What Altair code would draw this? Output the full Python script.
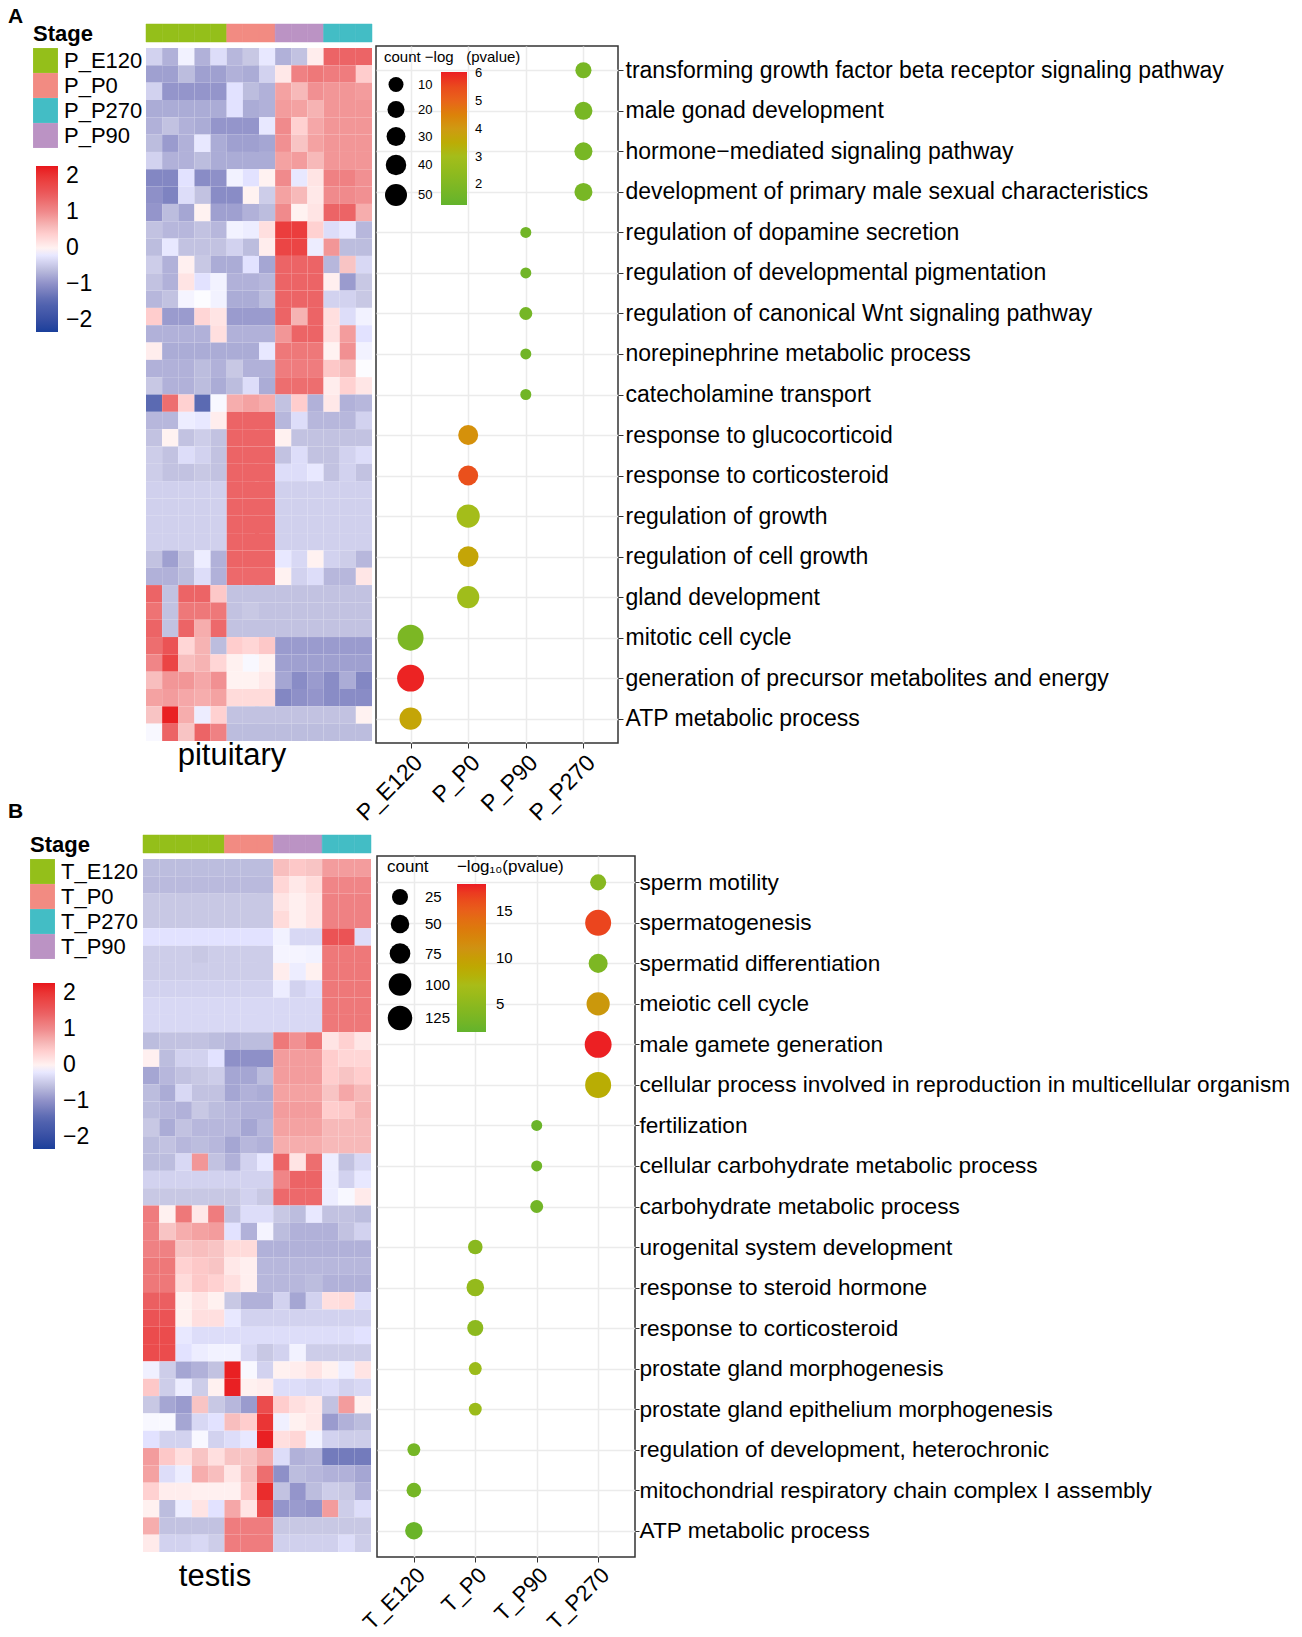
import altair as alt
import pandas as pd

FONT = "Liberation Sans"
U = -0.42

heat_a = [
 [-.4,-.7,-.1,-.7,-.3,-.65,-.5,-.2,-.7,-.55,.05,1.4,1.4,1.4],
 [-.85,-.85,-.6,-.85,-.85,-.7,-.75,-.4,.1,1.1,1.2,1.15,1.15,.4],
 [-.4,-.95,-.95,-.95,-.95,-.25,-.6,-.7,.8,.6,.95,.9,.9,.85],
 [-.75,-.75,-.75,-.75,-.75,-.25,-.75,-.7,.85,.8,.65,.9,.9,.9],
 [-.7,-.55,-.7,-.75,-.95,-.95,-.95,-.2,1.0,.35,.75,.9,.9,.9],
 [-.6,-.9,-.7,-.2,-.75,-.85,-.85,-.8,.95,.5,.8,.9,.9,.9],
 [-.4,-.7,-.7,-.6,-.75,-.75,-.75,-.75,.8,.85,.6,.9,.9,.9],
 [-1.1,-1.1,-.25,-1.05,-1.0,-.1,-.25,0,1.0,-.2,.15,1.1,1.1,.95],
 [-1,-1.15,-.3,-.55,-1.05,-1.05,0,-.45,.8,.6,.1,1.0,1.0,.95],
 [-.95,-.6,-.8,0,-.85,-.85,-.7,-.6,1.0,0,.15,1.4,1.4,.7],
 [-.55,-.65,-.65,-.55,-.65,-.1,-.15,.2,1.9,1.9,.35,-.3,-.2,-.65],
 [-.6,-.2,-.55,-.55,-.55,-.4,-.6,.05,1.8,1.8,-.15,.9,-.6,-.6],
 [-.45,-.7,.02,-.5,-.75,-.75,-.25,-.8,1.4,1.4,1.4,-.65,.5,-.35],
 [-.55,-.7,.15,-.25,-.1,-.7,-.7,-.65,1.4,1.4,1.4,.03,-.9,-.5],
 [-.65,-.55,-.08,-.01,-.1,-.75,-.75,-.6,1.4,1.4,1.4,-.4,-.4,-.5],
 [.4,-.9,-.9,.3,.15,-.9,-.9,-.9,1.4,.65,1.4,.2,-.3,-.1],
 [-.7,-.7,-.7,-.7,.2,-.7,-.7,-.7,.9,1.4,1.4,.2,.85,-.25],
 [.05,-.75,-.75,-.75,-.75,-.75,-.75,-.2,1.2,1.2,1.2,0,.95,-.1],
 [-.7,-.7,-.7,-.6,-.7,-.5,-.7,-.7,1.15,1.15,1.15,.45,.6,-.01],
 [-.5,-.7,-.7,-.6,-.75,-.6,-.3,-.75,1.3,1.3,1.3,.05,.35,.12],
 [-1.45,1.3,.35,-1.45,-.05,.7,.8,.7,-.55,.4,-.7,.1,-.7,-.65],
 [-.65,-.65,-.15,-.2,.05,1.4,1.4,1.4,-.65,-.3,-.65,-.65,-.65,-.4],
 [-.55,0,-.55,-.45,-.55,1.4,1.4,1.4,.01,-.55,-.55,-.55,-.55,-.55],
 [-.45,-.55,-.3,-.4,-.55,1.4,1.4,1.4,-.55,-.3,-.55,-.55,-.4,-.3],
 [-.45,-.55,-.55,-.5,-.55,1.4,1.4,1.4,-.3,-.3,-.2,-.55,-.4,-.55],
 [U,U,U,U,U,1.4,1.4,1.4,U,U,U,U,U,U],
 [U,U,U,U,U,1.4,1.4,1.4,U,U,U,U,U,U],
 [U,U,U,U,U,1.4,1.4,1.4,U,U,U,U,U,U],
 [U,U,U,U,U,1.4,1.4,1.4,U,U,U,U,U,U],
 [-.55,-.85,-.55,-.15,-.7,1.4,1.4,1.4,-.2,-.35,0,-.4,-.45,-.65],
 [-.7,-.7,-.6,-.3,-.7,1.35,1.35,1.35,0,-.4,-.3,-.65,-.65,.12],
 [1.4,-.55,1.4,1.4,.45,-.55,-.55,-.55,-.55,-.55,-.55,-.55,-.55,-.55],
 [1.25,-.55,1.2,1.2,1.2,-.55,-.5,-.55,-.55,-.55,-.55,-.55,-.55,-.55],
 [1.4,-.55,1.4,.7,1.35,-.55,-.55,-.55,-.55,-.55,-.55,-.55,-.55,-.55],
 [1.3,1.6,.3,.65,-.6,.4,.3,.45,-.9,-.9,-.9,-.9,-.9,-.9],
 [1.05,1.8,.55,.65,.3,.01,-.05,0,-.85,-.85,-.85,-.85,-.85,-.85],
 [.55,.9,.9,.75,.95,0,0,.1,-.8,-1.05,-.9,-1.05,-.75,-1.1],
 [.8,.85,.75,.7,.8,.25,.25,.25,-1.1,-1.0,-.95,-1.05,-1.05,-1.05],
 [.5,2.2,.7,-.15,.35,-.55,-.55,-.55,-.55,-.55,-.55,-.55,-.55,0],
 [-.05,1.4,.5,1.4,1.1,-.6,-.6,-.6,-.6,-.6,-.6,-.6,-.6,-.6],
]
heat_b = [
 [-.6,-.6,-.6,-.6,-.6,-.6,-.6,-.6,.55,.45,.5,.85,.85,.85],
 [-.62,-.62,-.62,-.62,-.62,-.62,-.62,-.62,.3,.1,.25,1.05,1.05,1.05],
 [-.5,-.5,-.5,-.5,-.5,-.5,-.5,-.5,.15,.03,.15,1.1,1.1,1.1],
 [-.5,-.5,-.5,-.5,-.5,-.5,-.5,-.5,.25,.03,.15,1.1,1.1,1.1],
 [-.25,-.25,-.25,-.25,-.25,-.25,-.25,-.25,-.1,-.35,-.35,1.6,1.6,-.3],
 [-.45,-.45,-.45,-.5,-.45,-.45,-.45,-.45,-.08,-.08,-.1,1.2,1.2,1.2],
 [-.45,-.45,-.45,-.45,-.45,-.45,-.45,-.45,.05,-.15,.01,1.2,1.2,1.2],
 [-.4,-.4,-.4,-.4,-.4,-.4,-.4,-.4,-.15,-.4,-.3,1.2,1.2,1.2],
 [-.35,-.35,-.35,-.35,-.35,-.35,-.35,-.35,-.35,-.35,-.35,1.2,1.2,1.2],
 [-.35,-.35,-.35,-.35,-.35,-.35,-.35,-.35,-.35,-.35,-.35,1.2,1.2,1.2],
 [-.6,-.55,-.55,-.55,-.6,-.65,-.6,-.6,1.2,.95,1.2,.15,.35,.12],
 [.02,-.6,-.4,-.4,-.25,-1,-1,-1,.85,.85,.85,.4,.3,.3],
 [-.8,-.65,-.55,-.5,-.45,-.8,-.8,-.6,.85,.85,.85,.4,.5,.4],
 [-.6,-.75,-.35,-.55,-.55,-.8,-.7,-.75,.8,.8,.8,.5,.75,.6],
 [-.6,-.65,-.7,-.5,-.6,-.65,-.7,-.7,.85,.85,.85,.4,.45,.65],
 [-.5,-.75,-.55,-.65,-.65,-.65,-.8,-.65,.8,.8,.8,.6,.6,.6],
 [-.6,-.55,-.65,-.6,-.65,-.8,-.65,-.7,.7,.7,.7,.6,.6,.6],
 [-.6,-.6,-.35,.9,-.55,-.7,-.4,-.2,1.4,.15,1.3,-.15,-.55,-.35],
 [-.4,-.4,-.4,-.4,-.4,-.4,-.4,-.4,1.05,1.4,1.4,-.15,-.4,-.2],
 [-.5,-.5,-.5,-.5,-.5,-.5,-.4,-.5,1.35,1.35,1.35,-.15,-.05,.08],
 [1.15,.01,1.2,.1,1.15,-.55,-.3,-.3,-.5,-.6,-.2,-.55,-.55,-.6],
 [1.1,.5,.7,.8,.85,-.25,-.7,-.08,-.6,-.7,-.7,-.7,-.55,-.4],
 [1.1,1.1,.5,.55,.5,.25,.25,-.7,-.7,-.7,-.7,-.7,-.7,-.7],
 [1.2,1.2,.35,.45,.5,.1,.03,-.65,-.65,-.65,-.65,-.65,-.65,-.65],
 [1.2,1.2,.25,.45,.35,.2,.03,-.65,-.65,-.65,-.6,-.7,-.7,-.7],
 [1.45,1.45,.01,.15,.01,-.5,-.7,-.7,-.4,-.8,-.4,.2,.25,-.3],
 [1.6,1.6,.01,.2,.2,-.2,-.4,-.4,-.4,-.4,-.4,-.4,-.4,-.4],
 [1.7,1.7,-.2,-.3,-.3,-.3,-.3,-.3,-.3,-.3,-.3,-.3,-.3,-.25],
 [1.7,1.7,-.25,-.15,-.1,-.1,-.35,-.5,-.4,-.1,-.45,-.45,-.45,-.45],
 [-.12,-.45,-.8,-.7,-.55,2.2,-.05,-.4,.01,.05,.15,.01,-.15,.15],
 [.45,-.45,-.15,-.45,.01,2.2,.01,.05,-.3,-.3,-.35,-.3,-.4,-.35],
 [-.5,-.8,-.9,.5,-.5,-.65,-.9,1.7,.4,.2,.1,-.55,.85,.01],
 [-.05,-.05,-.8,-.35,-.25,.55,.4,2.0,-.12,.01,.1,-.9,-.7,-.6],
 [-.25,-.4,-.4,-.05,-.4,-.3,-.2,2.2,.2,.3,-.1,-.4,-.45,-.45],
 [.85,.45,.2,.5,.2,.5,.5,.7,-.3,-.7,-.65,-1.25,-1.25,-1.25],
 [.8,-.3,-.15,.7,.55,.12,.55,1.3,-1.0,-.6,-.65,-.7,-.7,-.8],
 [.35,.05,.05,.02,.02,.02,.45,2.1,-.55,-.95,-.6,-.45,-.5,-.7],
 [.01,-.6,-.15,.15,-.25,.75,.15,1.7,-.95,-.9,-.95,.85,-.45,-.3],
 [.7,-.55,-.55,-.55,-.55,1.15,1.15,1.15,-.5,-.5,-.5,-.5,-.5,-.5],
 [.08,-.4,-.4,-.35,-.45,1.15,1.15,1.15,-.42,-.42,-.42,-.42,-.3,-.45],
]
heat_dom = [-2.33,-1.5,-1,-.5,0,.5,1,1.5,2.28]
heat_rng = ["#1a3f9b","#5566b0","#8e90c8","#c8c8e4","#ffffff","#f8c4c4","#f08a8c","#ea5a5c","#e8151b"]

col_groups = ["E120"]*5 + ["P0"]*3 + ["P90"]*3 + ["P270"]*3
stage_suffix = ["E120","P0","P270","P90"]
stage_cols = ["#94bf1a","#f28b82","#43bdc5","#bb93c4"]

terms_a = ["transforming growth factor beta receptor signaling pathway","male gonad development",
 "hormone−mediated signaling pathway","development of primary male sexual characteristics",
 "regulation of dopamine secretion","regulation of developmental pigmentation",
 "regulation of canonical Wnt signaling pathway","norepinephrine metabolic process","catecholamine transport",
 "response to glucocorticoid","response to corticosteroid","regulation of growth","regulation of cell growth",
 "gland development","mitotic cell cycle","generation of precursor metabolites and energy","ATP metabolic process"]
stage_a = ["P_P270"]*4 + ["P_P90"]*5 + ["P_P0"]*5 + ["P_E120"]*3
count_a = [25,32,32,32,10,10,15,10,10,40,40,55,43,50,70,75,50]
logp_a = [1.8,1.8,1.8,1.8,1.6,1.6,1.7,1.6,1.6,4.2,5.4,3.0,3.7,2.9,1.9,6.0,3.7]

terms_b = ["sperm motility","spermatogenesis","spermatid differentiation","meiotic cell cycle","male gamete generation",
 "cellular process involved in reproduction in multicellular organism","fertilization",
 "cellular carbohydrate metabolic process","carbohydrate metabolic process","urogenital system development",
 "response to steroid hormone","response to corticosteroid","prostate gland morphogenesis",
 "prostate gland epithelium morphogenesis","regulation of development, heterochronic",
 "mitochondrial respiratory chain complex I assembly","ATP metabolic process"]
stage_b = ["T_P270"]*6 + ["T_P90"]*3 + ["T_P0"]*5 + ["T_E120"]*3
count_b = [25,70,36,55,75,70,10,10,15,20,30,25,15,15,15,20,30]
logp_b = [4.5,16.5,3.8,10.5,17.8,8.5,2.5,2.8,3,4.7,5.5,5,6,6,3.2,3.2,2.5]


def indep(c):
    return c.resolve_scale(color="independent", size="independent", stroke="independent")


def heat_frame(rows):
    return pd.DataFrame([{"r": i, "c": j, "v": v} for i, row in enumerate(rows) for j, v in enumerate(row)])


def spacer(w, h):
    return alt.Chart(pd.DataFrame({"a": [0]})).mark_rule(opacity=0).encode(x=alt.value(0)).properties(width=w, height=h)


def left_block(rows, prefix, w, h, name, title_dx, title_off, letter, lx, ly, bar_y):
    stages = [f"{prefix}_{s}" for s in stage_suffix]
    stage_scale = alt.Scale(domain=stages, range=stage_cols)
    labels = [f"{prefix}_{g}" for g in col_groups]
    bar = alt.Chart(pd.DataFrame({"c": list(range(14)), "s": labels, "edge": labels})).mark_rect(strokeWidth=0.5).encode(
        x=alt.X("c:O", axis=None, scale=alt.Scale(paddingInner=0, paddingOuter=0)),
        stroke=alt.Stroke("edge:N", scale=stage_scale, legend=None),
        color=alt.Color("s:N", scale=stage_scale, legend=alt.Legend(
            title="Stage", orient="none", legendX=-113, legendY=0, titleFontSize=22, titleFont=FONT, titleFontWeight="bold",
            titleColor="black", titlePadding=2, labelFontSize=22, labelFont=FONT, labelColor="black",
            symbolType="square", symbolSize=620, symbolStrokeWidth=0, rowPadding=0, labelOffset=6, symbolOpacity=1)),
    )
    tag = alt.Chart(pd.DataFrame({"t": [letter]})).mark_text(align="left", baseline="alphabetic", fontSize=21, font=FONT, fontWeight="bold", color="black").encode(
        x=alt.value(lx), y=alt.value(ly), text="t:N")
    annot = alt.layer(bar, tag).properties(width=w, height=18)
    heat_scale = alt.Scale(domain=heat_dom, range=heat_rng, clamp=True)
    heat = alt.Chart(heat_frame(rows)).mark_rect().encode(
        x=alt.X("c:O", axis=None, scale=alt.Scale(paddingInner=0, paddingOuter=0)),
        y=alt.Y("r:O", axis=None, scale=alt.Scale(paddingInner=0, paddingOuter=0)),
        color=alt.Color("v:Q", scale=heat_scale, legend=alt.Legend(
            title=None, orient="none", legendX=-110, legendY=bar_y, gradientLength=166, gradientThickness=22,
            values=[2,1,0,-1,-2], labelFontSize=23, labelFont=FONT, labelColor="black", labelOffset=8, gradientStrokeWidth=0, format="d")),
    ).properties(width=w, height=h, title=alt.TitleParams(name, orient="bottom", fontSize=31, font=FONT, fontWeight="normal", dx=title_dx, offset=title_off))
    return indep(alt.vconcat(annot, heat, spacing=6, bounds="flush"))


def dots(terms, stages, counts, logp, order, w, h, col_dom, col_rng, legend_counts, leg_rng, col_vals, title,
         size_x, size_y, grad_x, grad_y, grad_h, grad_w, sym_label, row_pad, title_pad, lab_off, xfont, xpad, yfont, ypad, ytick, ypadding, grad_off):
    df = pd.DataFrame({"term": terms, "stage": stages, "count": counts, "logp": logp})
    leg = pd.DataFrame({"lc": legend_counts})
    legend_layer = alt.Chart(leg).mark_circle(opacity=0, color="black").encode(
        x=alt.value(0), y=alt.value(0),
        size=alt.Size("lc:Q", scale=alt.Scale(domain=[legend_counts[0], legend_counts[-1]], range=leg_rng), legend=alt.Legend(
            title=title, orient="none", legendX=size_x, legendY=size_y, values=legend_counts, titleFontSize=sym_label+2,
            titleFont=FONT, titleFontWeight="normal", titleColor="black", titleLimit=400, labelFontSize=sym_label, labelFont=FONT, labelColor="black",
            symbolFillColor="black", symbolStrokeColor="black", symbolOpacity=1, symbolType="circle", rowPadding=row_pad, labelOffset=lab_off, titlePadding=title_pad)),
    )
    pts = alt.Chart(df).mark_circle(opacity=1).encode(
        x=alt.X("stage:N", sort=order, title=None, scale=alt.Scale(domain=order, type="point", padding=0.6),
                axis=alt.Axis(labelAngle=315, labelFontSize=xfont, labelFont=FONT, labelColor="black", labelAlign="right", labelBaseline="top",
                              grid=True, gridColor="#ebebeb", gridWidth=1.5, domain=False, tickColor="#333333", tickSize=5, labelPadding=xpad)),
        y=alt.Y("term:N", sort=terms, title=None, scale=alt.Scale(domain=terms, type="point", padding=ypadding),
                axis=alt.Axis(orient="right", labelFontSize=yfont, labelFont=FONT, labelColor="black", labelLimit=900,
                              grid=True, gridColor="#ebebeb", gridWidth=1.5, domain=False, tickColor="#333333", tickSize=ytick, labelPadding=ypad)),
        size=alt.Size("count:Q", scale=alt.Scale(domain=[10,70], range=[121,676]), legend=None),
        color=alt.Color("logp:Q", scale=alt.Scale(domain=col_dom, range=col_rng), legend=alt.Legend(
            title=None, orient="none", legendX=grad_x, legendY=grad_y, gradientLength=grad_h, gradientThickness=grad_w, values=col_vals,
            labelFontSize=sym_label, labelFont=FONT, labelColor="black", labelOffset=grad_off, gradientStrokeWidth=0, format="d")),
    )
    return alt.layer(pts, legend_layer).resolve_scale(size="independent").properties(
        width=w, height=h, view=alt.ViewConfig(stroke="#333333", strokeWidth=1.5))


dots_a = dots(terms_a, stage_a, count_a, logp_a, ["P_E120","P_P0","P_P90","P_P270"], 242, 697,
              [1.25,3,4,5,6.05], ["#63b32c","#a4bd1a","#cf9a12","#e8651a","#ec1c24"], [10,20,30,40,50], [225,484], [6,5,4,3,2],
              "count\u00a0−log\u00a0\u00a0\u00a0(pvalue)", 8, 4, 65, 26, 133, 26, 13, 2, 11, 10, 23, 3, 23, 2, 5, 0.6, 8)
dots_b = dots(terms_b, stage_b, count_b, logp_b, ["T_E120","T_P0","T_P90","T_P270"], 258, 701,
              [2,7,11,15,17.9], ["#63b32c","#a8bc18","#cf9212","#e8601a","#ec1c24"], [25,50,75,100,125], [256,600], [15,10,5],
              "count\u00a0\u00a0\u00a0\u00a0\u00a0\u00a0−log₁₀(pvalue)", 10, 3, 80, 28, 148, 29, 15, 3, 12, 12, 22, 2, 22.6, 0, 4, 0.65, 10)


def row(left, right, gap):
    return indep(alt.hconcat(left, right, spacing=gap, bounds="flush"))


inner_a = row(left_block(heat_a, "P", 226, 693, "pituitary", -27, 0, "A", -138, -1, 118),
              indep(alt.vconcat(spacer(1, 16), dots_a, spacing=6, bounds="flush")), 230)
row_a = indep(alt.hconcat(spacer(1, 1), inner_a, spacing=2, bounds="flush"))
row_b = row(left_block(heat_b, "T", 228, 693, "testis", -42, 10, "B", -135, -17, 124),
            indep(alt.vconcat(spacer(1, 15), dots_b, spacing=6, bounds="flush")), 234)

chart = indep(alt.vconcat(row_a, row_b, spacing=811, bounds="flush")).properties(
    padding={"top": -2, "left": 0, "right": 3, "bottom": -8}, background="white").configure_view(stroke=None)
chart.save("out.html", embed_options={"renderer": "svg", "actions": False})
